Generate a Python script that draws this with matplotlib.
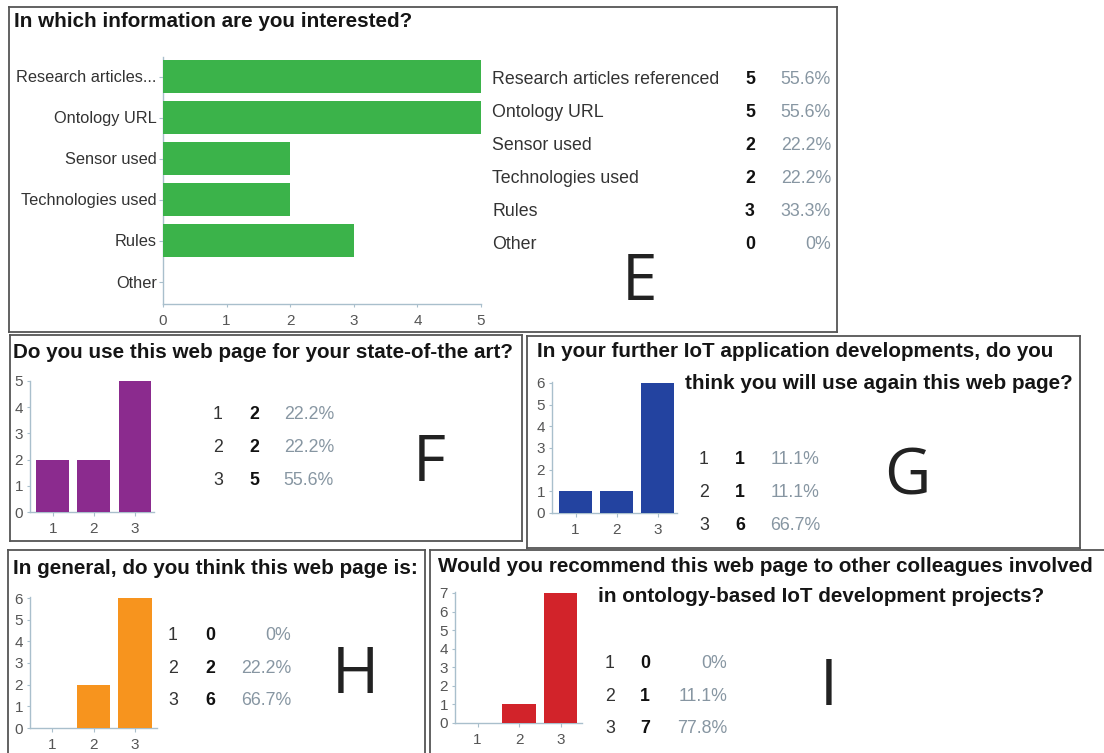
import matplotlib
matplotlib.use("Agg")
import matplotlib.pyplot as plt

W, H = 1104, 753
DPI = 100

# ---- survey data ----
info_categories = ["Research articles referenced", "Ontology URL", "Sensor used",
                   "Technologies used", "Rules", "Other"]
info_tick_labels = ["Research articles...", "Ontology URL", "Sensor used",
                    "Technologies used", "Rules", "Other"]
info_counts = [5, 5, 2, 2, 3, 0]
info_pct = ["55.6%", "55.6%", "22.2%", "22.2%", "33.3%", "0%"]

scale = [1, 2, 3]

state_counts = [2, 2, 5]
state_pct = ["22.2%", "22.2%", "55.6%"]

reuse_counts = [1, 1, 6]
reuse_pct = ["11.1%", "11.1%", "66.7%"]

general_counts = [0, 2, 6]
general_pct = ["0%", "22.2%", "66.7%"]

recommend_counts = [0, 1, 7]
recommend_pct = ["0%", "11.1%", "77.8%"]

# ---- styling ----
FONT = "Liberation Sans"
AXIS_C = "#a9bfcc"
TICK_C = "#555555"
LABEL_C = "#333333"
PCT_C = "#8796a2"
TITLE_C = "#151515"
BOX_C = "#555555"
TITLE_SIZE = 14.9
TABLE_SIZE = 12.8
TICK_SIZE = 11

fig = plt.figure(figsize=(W / DPI, H / DPI), dpi=DPI)
fig.patch.set_facecolor("white")

# overlay in pixel coordinates for frames and free text
ov = fig.add_axes([0, 0, 1, 1], zorder=5)
ov.set_xlim(0, W)
ov.set_ylim(H, 0)
ov.axis("off")
ov.patch.set_alpha(0)


def px_axes(left, top, right, bottom):
    return fig.add_axes([left / W, 1 - bottom / H, (right - left) / W, (bottom - top) / H])


def txt(x, yc, s, size, ha="left", weight="normal", color=LABEL_C, family=FONT, cap=0.716):
    # place text so that its cap height is centred on yc (pixels)
    size_px = size / 0.72
    ov.text(x, yc + size_px * cap / 2, s, fontsize=size, ha=ha, va="baseline",
            fontweight=weight, color=color, family=family)


def frame(x0, y0, x1, y1, sides="lrtb"):
    if "l" in sides:
        ov.plot([x0, x0], [y0, y1], color=BOX_C, lw=1.3)
    if "r" in sides:
        ov.plot([x1, x1], [y0, y1], color=BOX_C, lw=1.3)
    if "t" in sides:
        ov.plot([x0, x1], [y0, y0], color=BOX_C, lw=1.3)
    if "b" in sides:
        ov.plot([x0, x1], [y1, y1], color=BOX_C, lw=1.3)


def style_axes(ax):
    for sp in ("top", "right"):
        ax.spines[sp].set_visible(False)
    for sp in ("left", "bottom"):
        ax.spines[sp].set_color(AXIS_C)
        ax.spines[sp].set_linewidth(1.0)
    ax.tick_params(colors=AXIS_C, labelcolor=TICK_C)
    ax.patch.set_alpha(0)


def vbar_chart(rect, c1, step, y0, unit, counts, color):
    left, top, right, bottom = rect
    ax = px_axes(left, top, right, bottom)
    ax.bar(scale, counts, width=0.8, color=color, zorder=3)
    ax.set_xlim(1 + (left - c1) / step, 1 + (right - c1) / step)
    ax.set_ylim(0, (y0 - top) / unit)
    ax.set_xticks(scale)
    ax.set_yticks(range(0, max(counts) + 1))
    style_axes(ax)
    ax.tick_params(axis="y", length=2.5, pad=2.5, labelsize=TICK_SIZE)
    ax.tick_params(axis="x", length=3, pad=4, labelsize=TICK_SIZE)
    for lab in ax.get_xticklabels() + ax.get_yticklabels():
        lab.set_family(FONT)
    return ax


def table(xs, ys, labels, counts, pcts, size=TABLE_SIZE):
    x_lab, x_cnt, x_pct = xs
    for i, (lab, c, p) in enumerate(zip(labels, counts, pcts)):
        y = ys[0] + i * ys[1]
        if isinstance(lab, str):
            txt(x_lab, y, lab, size, ha="left", color=LABEL_C)
        else:
            txt(x_lab, y, str(lab), size, ha="center", color=LABEL_C)
        txt(x_cnt, y, str(c), size, ha="center", weight="bold", color="#111111")
        txt(x_pct, y, p, size, ha="right", color=PCT_C)


# ---------------- E : horizontal bars ----------------
frame(9, 7, 837, 332)
txt(14, 20, "In which information are you interested?", TITLE_SIZE, weight="bold", color=TITLE_C)
axE = px_axes(163, 57, 481, 304)
ypos = list(range(len(info_counts)))
axE.barh(ypos, info_counts, height=0.8, color="#3bb34a", zorder=3)
axE.set_xlim(0, 5)
axE.set_ylim((304 - 76.5) / 41, -(76.5 - 57) / 41)
axE.set_yticks(ypos)
axE.set_yticklabels(info_tick_labels)
axE.set_xticks(range(0, 6))
style_axes(axE)
axE.tick_params(axis="y", length=3, pad=1.5, labelsize=11.8, labelcolor=LABEL_C)
axE.tick_params(axis="x", length=2.5, pad=5, labelsize=TICK_SIZE)
for lab in axE.get_xticklabels() + axE.get_yticklabels():
    lab.set_family(FONT)
table((492, 750, 831), (78, 33), info_categories, info_counts, info_pct)
txt(640, 277, "E", 46, ha="center", color="#222222", family="Open Sans")

# ---------------- F ----------------
frame(10, 335, 522, 541)
txt(13, 351, "Do you use this web page for your state-of-the art?", TITLE_SIZE, weight="bold", color=TITLE_C)
vbar_chart((30, 381, 154, 512), 52.8, 41.1, 512, 26.2, state_counts, "#8b2b8e")
table((218, 254, 334), (413, 33), scale, state_counts, state_pct)
txt(429, 458, "F", 46, ha="center", color="#222222", family="Open Sans")

# ---------------- G ----------------
frame(527, 336, 1080, 548)
txt(537, 350, "In your further IoT application developments, do you", TITLE_SIZE, weight="bold", color=TITLE_C)
txt(685, 382, "think you will use again this web page?", TITLE_SIZE, weight="bold", color=TITLE_C)
vbar_chart((552, 382, 677, 513), 575.5, 41, 513, 130 / 6, reuse_counts, "#2343a0")
table((704, 740, 820), (458, 33), scale, reuse_counts, reuse_pct)
txt(907, 472, "G", 46, ha="center", color="#222222", family="Open Sans")

# ---------------- H ----------------
frame(8, 550, 425, 760)
txt(13, 567, "In general, do you think this web page is:", TITLE_SIZE, weight="bold", color=TITLE_C)
vbar_chart((30, 597, 157, 728), 52, 41.5, 728, 130 / 6, general_counts, "#f7941e")
table((173, 210, 291), (634, 32.5), scale, general_counts, general_pct)
txt(355, 670, "H", 46, ha="center", color="#222222", family="Open Sans")

# ---------------- I ----------------
frame(430, 550, 1110, 760, sides="lt")
txt(438, 565, "Would you recommend this web page to other colleagues involved", TITLE_SIZE, weight="bold", color=TITLE_C)
txt(598, 595, "in ontology-based IoT development projects?", TITLE_SIZE, weight="bold", color=TITLE_C)
vbar_chart((455, 592, 582, 723), 477.5, 41.5, 723, 130 / 7, recommend_counts, "#d2232a")
table((610, 645, 727), (662, 32.5), scale, recommend_counts, recommend_pct)
txt(829, 682, "I", 46, ha="center", color="#222222", family="Open Sans")

fig.savefig("out.png", dpi=DPI, facecolor="white")
